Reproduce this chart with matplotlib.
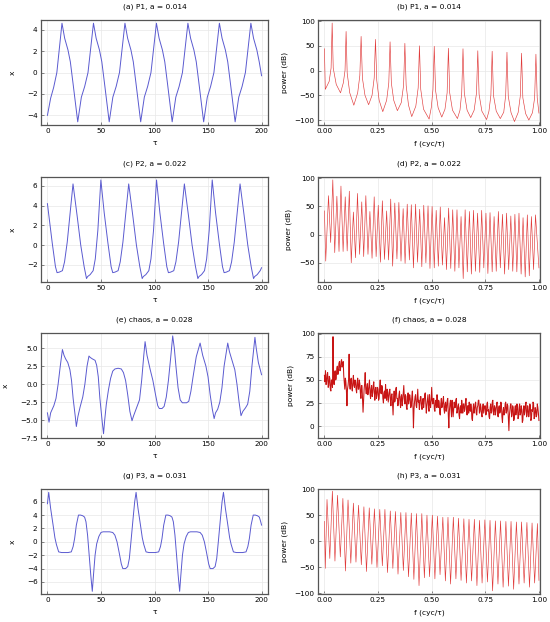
import numpy as np
import matplotlib.pyplot as plt

# ---- time series (left column) ----
tau_a = [0, 3.0, 5.8, 8.8, 13.6, 16.1, 19.2, 21.4, 23.9, 28.3,
         31.7, 34.8, 37.9, 43.0, 45.5, 48.6, 50.8, 53.3, 57.7,
         61.1, 64.2, 67.3, 72.4, 74.9, 78.0, 80.2, 82.7, 87.1,
         90.5, 93.6, 96.7, 101.8, 104.3, 107.4, 109.6, 112.1, 116.5,
         119.9, 123.0, 126.1, 131.2, 133.7, 136.8, 139.0, 141.5, 145.9,
         149.3, 152.4, 155.5, 160.6, 163.1, 166.2, 168.4, 170.9, 175.3,
         178.7, 181.8, 184.9, 190.0, 192.5, 195.6, 197.8, 200.0]
x_a = [-4.0, -2.4, -1.4, 0.0, 4.6, 3.2, 2.1, 1.0, -1.0, -4.6,
       -2.3, -1.3, 0.0, 4.6, 3.2, 2.1, 1.0, -1.0, -4.6,
       -2.3, -1.3, 0.0, 4.6, 3.2, 2.1, 1.0, -1.0, -4.6,
       -2.3, -1.3, 0.0, 4.6, 3.2, 2.1, 1.0, -1.0, -4.6,
       -2.3, -1.3, 0.0, 4.6, 3.2, 2.1, 1.0, -1.0, -4.6,
       -2.3, -1.3, 0.0, 4.6, 3.2, 2.1, 1.0, -1.0, -4.6,
       -2.3, -1.3, 0.0, 4.6, 3.2, 2.1, 1.0, -0.3]

tau_c = [0, 1.0, 4.5, 7.5, 9.0, 11.0, 14.0, 16.0, 18.5, 23.9, 27.7, 31.1, 34.3, 36.5, 37.5, 39.9, 42.7, 44.7, 47.1, 49.9,
         53.0, 56.5, 59.5, 61.0, 63.0, 66.0, 68.0, 70.5, 75.9, 79.7, 83.1, 86.3, 88.5, 89.5, 91.9, 94.7, 96.7, 99.1, 101.9,
         105.0, 108.5, 111.5, 113.0, 115.0, 118.0, 120.0, 122.5, 127.9, 131.7, 135.1, 138.3, 140.5, 141.5, 143.9, 146.7, 148.7, 151.1, 153.9,
         157.0, 160.5, 163.5, 165.0, 167.0, 170.0, 172.0, 174.5, 179.9, 183.7, 187.1, 190.3, 192.5, 193.5, 195.9, 198.7, 200.0]
x_c = [4.2, 3.3, 0.2, -2.2, -2.8, -2.75, -2.6, -1.7, 0.3, 6.2, 3.0, 0.0, -2.2, -3.4, -3.2, -3.0, -2.6, -1.4, 1.5, 6.6,
       3.3, 0.2, -2.2, -2.8, -2.75, -2.6, -1.7, 0.3, 6.2, 3.0, 0.0, -2.2, -3.4, -3.2, -3.0, -2.6, -1.4, 1.5, 6.6,
       3.3, 0.2, -2.2, -2.8, -2.75, -2.6, -1.7, 0.3, 6.2, 3.0, 0.0, -2.2, -3.4, -3.2, -3.0, -2.6, -1.4, 1.5, 6.6,
       3.3, 0.2, -2.2, -2.8, -2.75, -2.6, -1.7, 0.3, 6.2, 3.0, 0.0, -2.2, -3.4, -3.2, -3.0, -2.6, -2.3]

tau_e = [0, 1.5, 3, 6, 8, 10, 12, 14, 15.5, 17, 19, 21, 22.5, 24, 26, 27, 28.5, 30.5, 33, 35, 37, 38.8, 40, 42,
         44.5, 46, 47.5, 49, 51, 52.4, 53.5, 55, 57, 59, 61, 63, 66, 69, 71, 73, 75, 77, 79, 80.5, 83, 86, 88,
         90, 91.2, 93, 96, 98.5, 101, 103, 104.5, 107, 109, 111, 113, 115, 117, 118.5, 120, 122, 124, 126, 130,
         132, 134, 136, 139, 142.6, 145, 148, 150, 152, 154, 155.7, 157, 159, 161, 163, 165, 168.4, 170, 172,
         175, 177, 179, 180.8, 182.5, 185, 187, 189, 191, 193.8, 195, 197, 200]
x_e = [-4.0, -5.3, -4.0, -3.0, -2.0, 0.0, 2.5, 4.8, 4.0, 3.5, 3.0, 2.0, 0.5, -2.0, -4.5, -5.9, -4.5, -3.2, -1.8, 0.0, 2.5, 3.9, 3.7, 3.5,
       3.3, 2.6, 1.0, -2.0, -5.0, -6.9, -5.0, -2.8, -0.8, 0.8, 1.8, 2.1, 2.2, 2.1, 1.6, 0.5, -1.5, -3.8, -5.1, -4.4, -3.4, -2.2, 0.5,
       4.0, 5.9, 4.0, 2.0, 0.5, -1.5, -3.0, -3.4, -3.4, -3.1, -1.8, 0.5, 3.5, 6.7, 5.0, 2.5, -0.5, -2.2, -2.6, -2.6,
       -2.4, -1.0, 1.0, 3.8, 5.7, 4.0, 2.5, 1.0, -1.5, -3.5, -4.8, -4.0, -3.5, -2.5, -0.5, 2.5, 5.7, 4.5, 3.5,
       2.0, 0.0, -2.5, -4.4, -3.8, -3.3, -2.8, -1.0, 2.5, 6.5, 5.0, 3.0, 1.3]

tau_g = [0, 1.2, 3.0, 5.3, 7.0, 8.4, 10.5, 13.2, 19.2, 22.3, 24.0, 25.4, 27.0, 29.0, 31.0, 33.0, 34.7, 36.0, 37.5,
         39.0, 40.5, 41.9, 43.0, 44.5, 46.0, 48.0, 50.0, 52.0, 58.0, 61.0, 63.0, 65.0, 67.0, 69.0, 70.4, 73.0, 75.0,
         76.5, 78.0, 80.0, 81.5, 82.8,
         84.6, 86.9, 88.6, 90.0, 92.1, 94.8, 100.8, 103.9, 105.6, 107.0, 108.6, 110.6, 112.6, 114.6, 116.3, 117.6,
         119.1, 120.6, 122.1, 123.5, 124.6, 126.1, 127.6, 129.6, 131.6, 133.6, 139.6, 142.6, 144.6, 146.6, 148.6,
         150.6, 152.0, 154.6, 156.6, 158.1, 159.6, 161.6, 163.1, 164.4,
         166.2, 168.5, 170.2, 171.6, 173.7, 176.4, 182.4, 185.5, 187.2, 188.6, 190.2, 192.2, 194.2, 196.2, 197.9,
         199.2, 200.0]
x_g = [5.7, 7.4, 5.0, 2.5, 0.6, -0.4, -1.5, -1.6, -1.6, -1.5, -0.7, 0.5, 2.5, 4.0, 4.0, 3.9, 3.7, 3.0, 1.0,
       -2.0, -5.0, -7.4, -5.0, -2.0, -0.3, 0.8, 1.4, 1.5, 1.5, 1.4, 1.0, 0.0, -1.6, -3.3, -4.0, -4.0, -3.7,
       -2.5, 0.0, 3.5, 6.0, 7.4,
       5.0, 2.5, 0.6, -0.4, -1.5, -1.6, -1.6, -1.5, -0.7, 0.5, 2.5, 4.0, 4.0, 3.9, 3.7, 3.0,
       1.0, -2.0, -5.0, -7.4, -5.0, -2.0, -0.3, 0.8, 1.4, 1.5, 1.5, 1.4, 1.0, 0.0, -1.6,
       -3.3, -4.0, -4.0, -3.7, -2.5, 0.0, 3.5, 6.0, 7.4,
       5.0, 2.5, 0.6, -0.4, -1.5, -1.6, -1.6, -1.5, -0.7, 0.5, 2.5, 4.0, 4.0, 3.9, 3.7,
       3.0, 2.5]

# ---- power spectra (right column) ----
f_b = [0.000, 0.004, 0.022, 0.031, 0.036, 0.041, 0.055, 0.075, 0.088, 0.096, 0.101, 0.106, 0.118, 0.137,
       0.155, 0.165, 0.171, 0.177, 0.189, 0.206, 0.222, 0.232, 0.238, 0.244, 0.255, 0.272, 0.290, 0.300,
       0.306, 0.312, 0.323, 0.340, 0.358, 0.369, 0.375, 0.381, 0.392, 0.407, 0.426, 0.437, 0.443, 0.449,
       0.462, 0.488, 0.498, 0.506, 0.512, 0.518, 0.530, 0.547, 0.562, 0.572, 0.578, 0.584, 0.597, 0.620,
       0.632, 0.640, 0.646, 0.652, 0.665, 0.682, 0.698, 0.709, 0.715, 0.721, 0.734, 0.756, 0.767, 0.776,
       0.782, 0.788, 0.801, 0.820, 0.836, 0.845, 0.851, 0.857, 0.870, 0.886, 0.903, 0.913, 0.919, 0.925,
       0.938, 0.953, 0.970, 0.980, 0.986, 0.992, 1.000]
db_b = [44, -38, -22, 5, 96, 5, -28, -45, -25, 0, 79, -5, -45, -70,
        -45, -10, 69, -15, -50, -69, -50, -15, 63, -20, -60, -83, -60, -25,
        58, -25, -60, -81, -65, -30, 55, -30, -70, -93, -72, -35, 50, -38,
        -78, -98, -75, -38, 49, -40, -75, -94, -78, -45, 45, -45, -80, -97,
        -80, -45, 44, -45, -80, -95, -80, -45, 40, -48, -82, -99, -82, -50,
        39, -50, -82, -97, -84, -50, 37, -52, -85, -103, -85, -52, 35, -55,
        -87, -100, -85, -55, 33, -55, -86]

peak_f_d = [0.000, 0.019, 0.039, 0.058, 0.077, 0.097, 0.116, 0.135, 0.154, 0.174,
            0.193, 0.212, 0.232, 0.251, 0.270, 0.290, 0.309, 0.328, 0.347, 0.367,
            0.386, 0.405, 0.425, 0.444, 0.463, 0.483, 0.502, 0.521, 0.540, 0.560,
            0.579, 0.598, 0.618, 0.637, 0.656, 0.676, 0.695, 0.714, 0.733, 0.753,
            0.772, 0.791, 0.811, 0.830, 0.849, 0.869, 0.888, 0.907, 0.926, 0.946,
            0.965, 0.984]
peak_db_d = [42, 69, 97, 68, 86, 67, 77, 40, 73, 58, 69, 41, 67, 52, 60, 42, 63, 56, 57, 46,
             54, 53, 54, 45, 52, 51, 50, 43, 49, 30, 47, 44, 44, 32, 44, 41, 43, 38, 43, 38,
             39, 32, 41, 36, 38, 33, 36, 38, 30, 35, 32, 35]
trough_f_d = [0.006, 0.029, 0.048, 0.068, 0.087, 0.106, 0.125, 0.145, 0.164, 0.183,
              0.203, 0.222, 0.241, 0.261, 0.280, 0.299, 0.318, 0.338, 0.357, 0.376,
              0.396, 0.415, 0.434, 0.454, 0.473, 0.492, 0.512, 0.531, 0.550, 0.569,
              0.589, 0.608, 0.627, 0.647, 0.666, 0.685, 0.704, 0.724, 0.743, 0.762,
              0.782, 0.801, 0.820, 0.840, 0.859, 0.878, 0.897, 0.917, 0.936, 0.955,
              0.975, 1.000]
trough_db_d = [-47, -14, -32, -30, -30, -29, -50, -41, -35, -39, -35, -42, -39, -49, -44, -45, -56, -43, -47, -51,
               -45, -59, -49, -57, -50, -60, -59, -56, -54, -62, -60, -65, -59, -78, -66, -70, -65, -67, -59, -69,
               -66, -65, -59, -70, -62, -65, -66, -70, -75, -73, -62, -59]

# chaos spectrum, sampled every 0.0025 cyc/tau
db_f = [55, 48, 60, 45, 48, 56, 58, 42, 44, 54, 52, 40, 38, 50, 50, 42, 97, 52, 45, 58,
        60, 50, 52, 62, 65, 56, 58, 68, 70, 60, 62, 70, 72, 64, 66, 70, 55, 48, 40, 52,
        48, 38, 22, 40, 44, 50, 78, 45, 40, 50, 52, 42, 38, 48, 55, 44, 42, 50, 48, 40,
        36, 48, 52, 40, 40, 50, 46, 36, 30, 44, 44, 30, 15, 28, 40, 46, 58, 40, 35, 42,
        46, 34, 38, 44, 50, 36, 30, 40, 44, 32, 36, 44, 48, 36, 28, 40, 42, 30, 34, 42,
        40, 28, 30, 42, 50, 36, 35, 44, 42, 30, 25, 36, 38, 30, 45, 34, 28, 40, 36, 26,
        32, 38, 40, 28, 22, 34, 35, 24, 12, 30, 38, 26, 28, 40, 42, 30, 30, 22, 26, 34,
        38, 26, 20, 32, 34, 22, 28, 36, 44, 30, 24, 34, 32, 20, 18, 30, 36, 24, 28, 34,
        30, 20, 22, 32, 38, 24, -2, 18, 26, 32, 34, 22, 20, 30, 40, 26, 28, 18, 24, 32,
        32, 22, 18, 28, 30, 20, 26, 34, 36, 24, 14, 22, 28, 34, 22, 16, 34, 24, 20, 28,
        42, 28, 24, 30, 30, 18, 16, 26, 28, 20, 34, 24, 20, 28, 26, 14, 12, 24, 30, 20,
        22, 28, 32, 18, 14, 24, 26, 16, 20, 28, 30, 12, -2, 16, 24, 28, 18, 10, 28, 20,
        10, 18, 26, 20, 20, 28, 30, 14, 16, 22, 24, 12, 8, 20, 22, 14, 28, 20, 14, 24,
        24, 16, 18, 26, 30, 18, 12, 22, 22, 14, 26, 18, 16, 24, 20, 8, 6, 18, 24, 14,
        18, 24, 26, 14, 12, 20, 22, 28, 28, 14, 16, 24, 20, 12, 10, 20, 24, 14, 18, 22,
        22, 12, 14, 24, 26, 16, 18, 10, 8, 20, 24, 14, 16, 26, 28, 14, 12, 22, 20, 12,
        18, 24, 26, 12, 10, 20, 22, 14, 16, 26, 24, 10, 4, 16, 20, 12, 14, 24, 26, 14,
        16, 24, 22, 8, -5, 12, 18, 24, 24, 10, 12, 22, 20, 6, 8, 18, 22, 12, 16, 24,
        20, 8, 10, 20, 24, 12, 14, 22, 18, 4, 6, 18, 22, 12, 16, 24, 26, 10, 12, 22,
        18, 10, 14, 24, 22, 6, 8, 18, 16, 26, 24, 8, 10, 20, 18, 10, 12, 24, 20, 14,
        6]
f_f = np.linspace(0, 1, len(db_f))

peak_f_h = [0.000, 0.012, 0.037, 0.061, 0.086, 0.110, 0.135, 0.159, 0.184, 0.209,
            0.233, 0.258, 0.282, 0.307, 0.331, 0.356, 0.380, 0.405, 0.429, 0.454,
            0.478, 0.503, 0.527, 0.552, 0.576, 0.601, 0.625, 0.650, 0.674, 0.699,
            0.723, 0.748, 0.772, 0.797, 0.821, 0.846, 0.870, 0.895, 0.919, 0.944,
            0.968, 0.993]
peak_db_h = [38, 80, 96, 88, 82, 79, 73, 69, 66, 64, 62, 61, 61, 58, 57, 55, 55, 54, 53, 53,
             50, 50, 48, 46, 46, 46, 44, 43, 42, 42, 40, 41, 40, 39, 39, 38, 38, 37, 37, 36,
             35, 34]
trough_f_h = [0.004, 0.025, 0.049, 0.074, 0.098, 0.123, 0.147, 0.172, 0.196, 0.221,
              0.245, 0.270, 0.294, 0.319, 0.343, 0.368, 0.392, 0.417, 0.441, 0.466,
              0.490, 0.515, 0.539, 0.564, 0.588, 0.613, 0.637, 0.662, 0.686, 0.711,
              0.735, 0.760, 0.784, 0.809, 0.833, 0.858, 0.882, 0.907, 0.931, 0.956,
              0.980, 1.000]
trough_db_h = [-52, -33, -38, -30, -57, -42, -40, -45, -58, -44, -50, -47, -60, -52, -63, -56, -68, -73, -85, -70,
               -68, -72, -64, -76, -82, -72, -75, -80, -76, -85, -80, -78, -95, -82, -88, -86, -92, -82, -80, -88,
               -80, -75]


def zigzag(pf, pdb, tf, tdb):
    fs, ds = [], []
    for a, b, c, d in zip(pf, pdb, tf, tdb):
        fs += [a, c]
        ds += [b, d]
    return fs, ds


f_d, db_d = zigzag(peak_f_d, peak_db_d, trough_f_d, trough_db_d)
f_h, db_h = zigzag(peak_f_h, peak_db_h, trough_f_h, trough_db_h)

plt.rcParams['font.family'] = 'DejaVu Sans'
plt.rcParams['font.size'] = 5

BLUE = '#5a5ad0'
RED = '#e03a3a'

fig = plt.figure(figsize=(5.5, 6.22), dpi=100)
bottoms = [0.799, 0.5466, 0.2958, 0.045]
h = 105 / 622

left_panels = [
    (tau_a, x_a, '(a) P1, a = 0.014', (-4.9, 4.9), 2),
    (tau_c, x_c, '(c) P2, a = 0.022', (-3.75, 6.9), 2),
    (tau_e, x_e, '(e) chaos, a = 0.028', (-7.5, 7.1), 2.5),
    (tau_g, x_g, '(g) P3, a = 0.031', (-7.8, 7.9), 2),
]
right_panels = [
    (f_b, db_b, '(b) P1, a = 0.014', (-110, 102), 50, RED, 0.45),
    (f_d, db_d, '(d) P2, a = 0.022', (-84, 102), 50, RED, 0.45),
    (f_f, db_f, '(f) chaos, a = 0.028', (-13, 101), 25, '#c81414', 0.75),
    (f_h, db_h, '(h) P3, a = 0.031', (-101, 100), 50, RED, 0.45),
]


def style(ax):
    for s in ax.spines.values():
        s.set_color('#555555')
        s.set_linewidth(0.9)
    ax.grid(True, color='#e8e8e8', linewidth=0.5)
    ax.set_axisbelow(True)
    ax.tick_params(direction='in', length=2, width=0.5, color='#555555',
                   labelsize=5.2, pad=2.5, top=False, right=False)


for row, (t, x, title, ylim, step) in enumerate(left_panels):
    ax = fig.add_axes([41 / 550, bottoms[row], 227 / 550, h])
    ax.plot(t, x, color=BLUE, lw=0.7)
    ax.set_xlim(-6, 206)
    ax.set_ylim(*ylim)
    ax.set_xticks([0, 50, 100, 150, 200])
    ax.yaxis.set_major_locator(plt.MultipleLocator(step))
    ax.set_title(title, fontsize=5.4, pad=8)
    ax.set_xlabel('τ', fontsize=5.4, labelpad=4)
    ax.set_ylabel('x', fontsize=5.4, labelpad=8)
    style(ax)

for row, (f, db, title, ylim, step, col, lw) in enumerate(right_panels):
    ax = fig.add_axes([318 / 550, bottoms[row], 222 / 550, h])
    ax.plot(f, db, color=col, lw=lw)
    ax.set_xlim(-0.03, 1.005)
    ax.set_ylim(*ylim)
    ax.set_xticks([0, 0.25, 0.5, 0.75, 1.0])
    ax.set_xticklabels(['0.00', '0.25', '0.50', '0.75', '1.00'])
    ax.yaxis.set_major_locator(plt.MultipleLocator(step))
    ax.set_title(title, fontsize=5.4, pad=8)
    ax.set_xlabel('f (cyc/τ)', fontsize=5.4, labelpad=4)
    ax.set_ylabel('power (dB)', fontsize=5.4, labelpad=5)
    style(ax)

fig.savefig('out.png', dpi=100)
